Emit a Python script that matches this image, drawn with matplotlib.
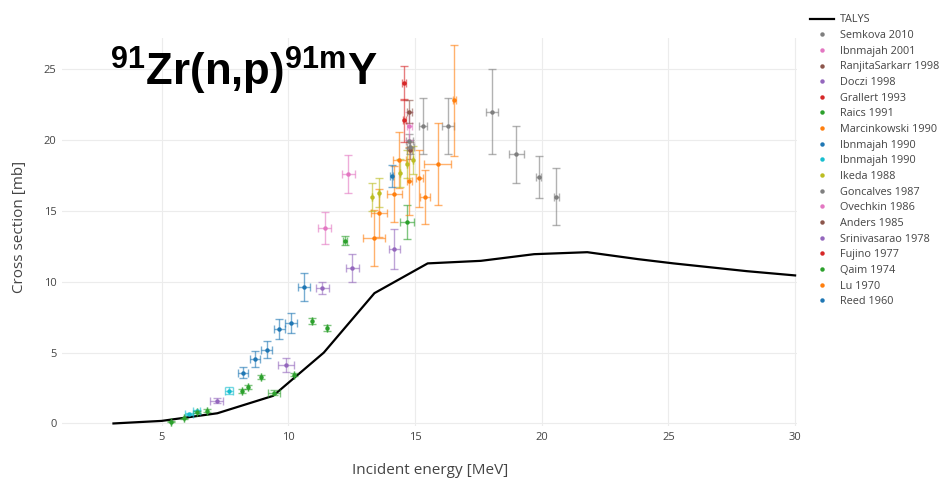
"""
91Zr(n,p)91mY excitation function: TALYS calculation against EXFOR measurements.
"""

import matplotlib.pyplot as plt
from matplotlib.lines import Line2D

plt.rcParams['font.family'] = ['Open Sans', 'DejaVu Sans']
plt.rcParams['mathtext.fontset'] = 'custom'
plt.rcParams['mathtext.rm'] = 'Liberation Sans'
plt.rcParams['mathtext.bf'] = 'Liberation Sans:bold'

# ---------------------------------------------------------------------------
# TALYS curve (MeV, mb)
# ---------------------------------------------------------------------------
talys_e  = [3.1, 5.0, 7.2, 9.4, 11.4, 12.4, 13.4, 15.5, 17.6, 19.7, 21.8,
            23.8, 25.2, 28.1, 30.0]
talys_xs = [0.0, 0.18, 0.72, 1.95, 5.0, 7.1, 9.2, 11.3, 11.48, 11.95, 12.09,
            11.6, 11.3, 10.75, 10.45]

# ---------------------------------------------------------------------------
# Measurements: rows of (E, sigma, dE, dsigma)
# ---------------------------------------------------------------------------
SEMKOVA_2010 = [(15.3, 21.0, 0.16, 2.0), (16.3, 21.0, 0.25, 2.0),
                (18.05, 22.0, 0.23, 3.0), (18.99, 19.0, 0.3, 2.0),
                (19.88, 17.4, 0.1, 1.5), (20.58, 16.0, 0.1, 2.0)]
IBNMAJAH_2001 = [(11.44, 13.8, 0.25, 1.1), (12.37, 17.6, 0.25, 1.35)]
RANJITA_1998 = [(14.8, 19.3, 0.1, 0.6)]
DOCZI_1998 = [(9.91, 4.13, 0.3, 0.5), (11.34, 9.57, 0.25, 0.45),
              (12.53, 10.98, 0.25, 1.0)]
GRALLERT_1993 = [(14.58, 24.0, 0.08, 1.2)]
RAICS_1991 = [(8.18, 2.3, 0.0, 0.15), (8.42, 2.6, 0.0, 0.15),
              (8.91, 3.3, 0.0, 0.15), (10.92, 7.24, 0.0, 0.2),
              (11.54, 6.72, 0.0, 0.2), (12.24, 12.9, 0.08, 0.3),
              (14.67, 14.2, 0.28, 1.2)]
MARCINKOWSKI_1990 = [(13.38, 13.1, 0.42, 2.0), (13.58, 14.84, 0.3, 1.7),
                     (14.19, 16.2, 0.3, 2.0), (14.38, 18.6, 0.25, 2.0),
                     (14.78, 17.1, 0.1, 2.4), (15.17, 17.3, 0.15, 2.0),
                     (15.4, 16.0, 0.2, 1.9), (15.9, 18.3, 0.53, 2.9)]
IBNMAJAH_1990_A = [(8.21, 3.59, 0.2, 0.4), (8.7, 4.53, 0.2, 0.55),
                   (9.15, 5.19, 0.22, 0.6), (9.65, 6.65, 0.22, 0.7),
                   (10.1, 7.08, 0.25, 0.7), (10.62, 9.62, 0.25, 1.0)]
IBNMAJAH_1990_B = [(6.09, 0.67, 0.15, 0.1), (6.38, 0.85, 0.15, 0.1),
                   (7.67, 2.32, 0.15, 0.25)]
IKEDA_1988 = [(13.32, 16.0, 0.0, 1.0), (13.58, 16.3, 0.0, 1.0),
              (14.41, 17.7, 0.0, 1.0), (14.67, 18.3, 0.0, 1.0),
              (14.93, 18.6, 0.0, 1.0)]
GONCALVES_1987 = [(14.78, 19.95, 0.15, 0.5), (14.82, 19.5, 0.15, 0.5)]
OVECHKIN_1986 = [(14.78, 21.0, 0.1, 1.0)]
ANDERS_1985 = [(14.78, 22.0, 0.1, 0.8)]
SRINIVASARAO_1978 = [(7.17, 1.61, 0.25, 0.2), (14.19, 12.3, 0.2, 1.4)]
FUJINO_1977 = [(14.58, 21.4, 0.05, 1.5)]
QAIM_1974 = [(5.36, 0.13, 0.0, 0.05), (5.9, 0.37, 0.0, 0.05),
             (6.38, 0.83, 0.0, 0.08), (6.78, 0.91, 0.0, 0.08),
             (9.44, 2.18, 0.25, 0.2), (10.22, 3.43, 0.0, 0.1)]
LU_1970 = [(16.55, 22.8, 0.05, 3.9)]
REED_1960 = [(14.08, 17.48, 0.05, 0.8)]

labels = ['Semkova 2010', 'Ibnmajah 2001', 'RanjitaSarkarr 1998', 'Doczi 1998',
          'Grallert 1993', 'Raics 1991', 'Marcinkowski 1990', 'Ibnmajah 1990',
          'Ibnmajah 1990', 'Ikeda 1988', 'Goncalves 1987', 'Ovechkin 1986',
          'Anders 1985', 'Srinivasarao 1978', 'Fujino 1977', 'Qaim 1974',
          'Lu 1970', 'Reed 1960']
datasets = [SEMKOVA_2010, IBNMAJAH_2001, RANJITA_1998, DOCZI_1998,
            GRALLERT_1993, RAICS_1991, MARCINKOWSKI_1990, IBNMAJAH_1990_A,
            IBNMAJAH_1990_B, IKEDA_1988, GONCALVES_1987, OVECHKIN_1986,
            ANDERS_1985, SRINIVASARAO_1978, FUJINO_1977, QAIM_1974,
            LU_1970, REED_1960]

# plotly/d3 category colours, cycling backwards from the oldest set
palette = ['#1f77b4', '#ff7f0e', '#2ca02c', '#d62728', '#9467bd',
           '#8c564b', '#e377c2', '#7f7f7f', '#bcbd22', '#17becf']
colors = [palette[(len(labels) - 1 - i) % 10] for i in range(len(labels))]

# ---------------------------------------------------------------------------
# Figure
# ---------------------------------------------------------------------------
fig = plt.figure(figsize=(9.4, 4.83), dpi=100)
ax = fig.add_axes([0.066, 0.118, 0.782, 0.803])

ax.plot(talys_e, talys_xs, color='black', lw=1.6, zorder=1)

for rows, col in zip(datasets, colors):
    e, xs, de, dxs = zip(*rows)
    ax.errorbar(e, xs, xerr=de, yerr=dxs, fmt='none', ecolor=col,
                elinewidth=1.0, capsize=3, capthick=1.0, alpha=0.6, zorder=2)
    ax.plot(e, xs, 'o', color=col, ms=3.2, mec='none', zorder=3)

ax.set_xlim(1.07, 30.08)
ax.set_ylim(-0.18, 27.2)
ax.set_xticks([5, 10, 15, 20, 25, 30])
ax.set_yticks([0, 5, 10, 15, 20, 25])
ax.grid(True, color='#ececec', lw=0.8)
ax.set_axisbelow(True)
for s in ax.spines.values():
    s.set_visible(False)
ax.tick_params(length=0, labelsize=8, colors='#444444', pad=4)

fig.text(20 / 940, 1 - 227 / 483, 'Cross section [mb]', rotation=90,
         ha='center', va='center', fontsize=11, color='#444444')
fig.text(430 / 940, 1 - 470 / 483, 'Incident energy [MeV]',
         ha='center', va='center', fontsize=11, color='#444444')

fig.text(110 / 940, 1 - 86 / 483, r'$\mathbf{^{91}Zr(n{,}p)^{91m}Y}$',
         fontsize=31.5, color='black', ha='left', va='baseline')

# legend
handles = [Line2D([], [], color='black', lw=1.6)]
handles += [Line2D([], [], ls='none', marker='o', ms=3.2, color=c, mec='none')
            for c in colors]
fig.legend(handles, ['TALYS'] + labels, loc='upper left',
           bbox_to_anchor=(806 / 940, 1 - 10 / 483), frameon=False,
           fontsize=7.8, labelcolor='#444444', handlelength=2.2,
           handletextpad=0.5, labelspacing=0.43, borderaxespad=0)

plt.savefig('out.png', dpi=100)
plt.close()
